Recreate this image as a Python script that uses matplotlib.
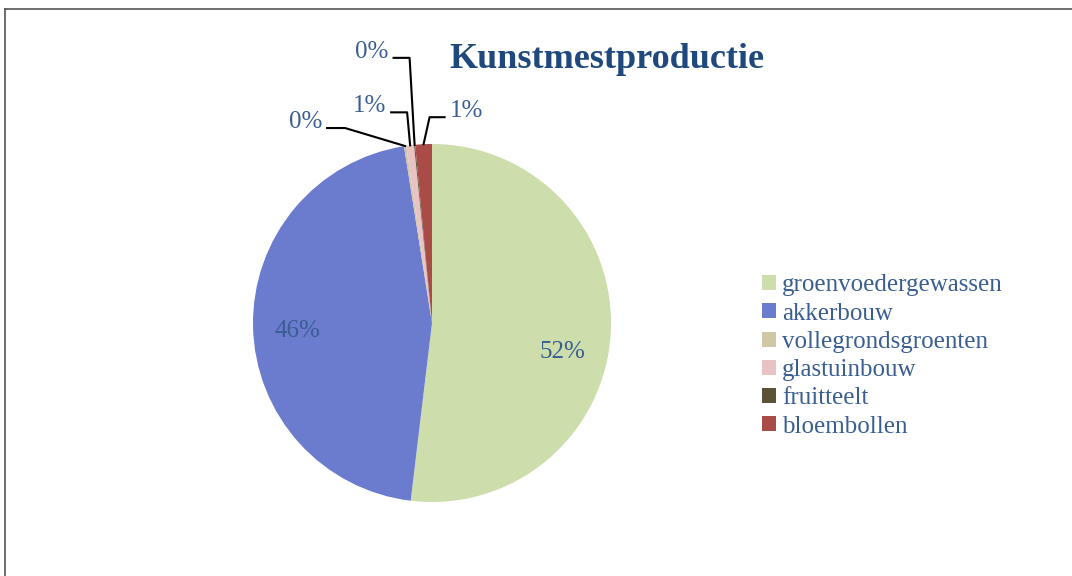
import numpy as np
import matplotlib.pyplot as plt
from matplotlib.lines import Line2D

categories = ["groenvoedergewassen", "akkerbouw", "vollegrondsgroenten",
              "glastuinbouw", "fruitteelt", "bloembollen"]
shares = [51.9, 45.6, 0.2, 0.7, 0.1, 1.5]
pct_labels = ["52%", "46%", "0%", "1%", "0%", "1%"]
colors = ["#CDDDAC", "#6B7CCF", "#CFC7A6", "#E9C3C3", "#5C5337", "#A94B46"]

title = "Kunstmestproductie"
text_color = "#3A5E91"
title_color = "#1F497D"

plt.rcParams['font.family'] = ['Liberation Serif', 'DejaVu Serif']

fig = plt.figure(figsize=(10.72, 5.76), dpi=100)
ax = fig.add_axes([0, 0, 1, 1])

# pie centre / radius in pixel units (y measured from bottom)
cx, cy, R = 432, 253, 179
wedges, _ = ax.pie(shares, colors=colors, startangle=90, counterclock=False,
                   center=(cx, cy), radius=R, wedgeprops=dict(linewidth=0))
ax.set_xlim(0, 1072)
ax.set_ylim(0, 576)
ax.set_aspect('equal')
ax.axis('off')

# inside labels for the big slices (offset from pie centre)
inside = {0: (130, -29), 1: (-135, -8)}
for i, (dx, dy) in inside.items():
    ax.text(cx + dx, cy + dy, pct_labels[i], ha='center', va='center',
            fontsize=18, color=text_color)

# outside labels with leader lines: (elbow offset, end offset, text side)
leaders = {
    2: ((-60, 18), (-78, 18), 'right'),
    3: ((-3, 33), (-19, 33), 'right'),
    4: ((-5, 87), (-21, 87), 'right'),
    5: ((6, 27), (21, 27), 'left'),
}
for i, (elbow, end, side) in leaders.items():
    w = wedges[i]
    ang = np.deg2rad((w.theta1 + w.theta2) / 2)
    ax0, ay0 = cx + R * np.cos(ang), cy + R * np.sin(ang)
    ex, ey = ax0 + elbow[0], ay0 + elbow[1]
    tx, ty = ax0 + end[0], ay0 + end[1]
    ax.plot([ax0, ex, tx], [ay0, ey, ty], color='black', lw=1.5)
    off = -5 if side == 'right' else 5
    ax.text(tx + off, ty + 6, pct_labels[i], ha=side, va='center',
            fontsize=18, color=text_color)

ax.text(607, 517, title, ha='center', va='center', fontsize=26,
        fontweight='bold', color=title_color)

leg = ax.legend(wedges, categories, loc='upper left', bbox_to_anchor=(0.7015, 0.541),
                frameon=False, fontsize=18, handlelength=0.55, handleheight=0.55,
                handletextpad=0.25, labelspacing=0.25, borderaxespad=0)
for t in leg.get_texts():
    t.set_color(text_color)

# chart border (left and top edges visible)
fig.add_artist(Line2D([5 / 1072, 5 / 1072], [0, 1 - 9 / 576], color='#555555', lw=1.2))
fig.add_artist(Line2D([5 / 1072, 1], [1 - 9 / 576, 1 - 9 / 576], color='#555555', lw=1.2))

fig.savefig("out.png", dpi=100)
